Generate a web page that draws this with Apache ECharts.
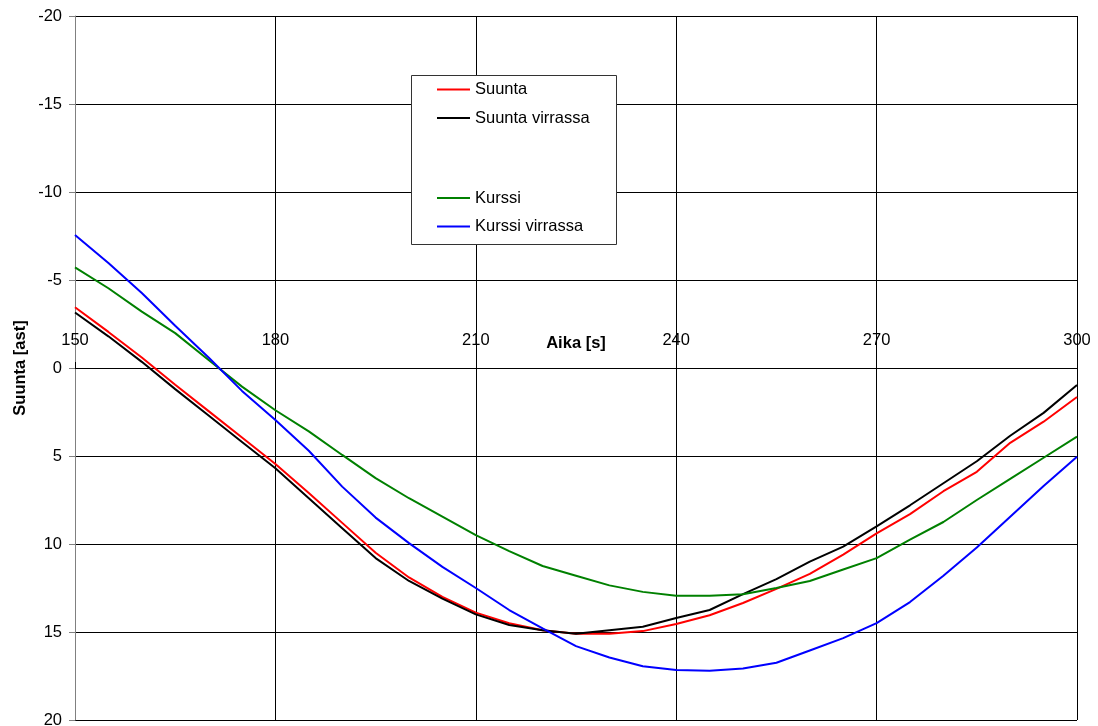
<!DOCTYPE html>
<html>
<head>
<meta charset="utf-8">
<script src="https://cdn.jsdelivr.net/npm/echarts@6/dist/echarts.min.js"></script>
<style>
  html, body { margin: 0; padding: 0; background: #fff; }
  #chart { width: 1098px; height: 726px; }
</style>
</head>
<body>
<div id="chart"></div>
<script>
// aika [s]
const aika = [150, 155, 160, 165, 170, 175, 180, 185, 190, 195, 200, 205, 210, 215, 220, 225,
  230, 235, 240, 245, 250, 255, 260, 265, 270, 275, 280, 285, 290, 295, 300]

const suunta = [-3.45, -2.05, -0.6, 0.95, 2.45, 3.95, 5.45, 7.1, 8.8, 10.5, 11.9, 13.0, 13.9, 14.5, 14.9, 15.1,
  15.1, 14.95, 14.55, 14.05, 13.35, 12.55, 11.7, 10.6, 9.4, 8.3, 7.0, 5.9, 4.25, 3.05, 1.65]

const suuntaVirrassa = [-3.15, -1.8, -0.35, 1.2, 2.7, 4.2, 5.7, 7.4, 9.1, 10.8, 12.1, 13.1, 14.0, 14.6, 14.9, 15.1,
  14.9, 14.7, 14.2, 13.75, 12.85, 12.0, 11.0, 10.15, 9.0, 7.8, 6.55, 5.3, 3.85, 2.55, 0.97]

const kurssi = [-5.72, -4.53, -3.2, -1.98, -0.45, 1.06, 2.4, 3.6, 4.94, 6.26, 7.4, 8.45, 9.5, 10.4, 11.25, 11.8,
  12.35, 12.72, 12.94, 12.94, 12.85, 12.5, 12.1, 11.45, 10.8, 9.75, 8.75, 7.5, 6.3, 5.1, 3.9]

const kurssiVirrassa = [-7.56, -5.96, -4.26, -2.4, -0.6, 1.3, 2.95, 4.7, 6.74, 8.5, 9.95, 11.3, 12.5, 13.75, 14.8, 15.8,
  16.45, 16.95, 17.16, 17.2, 17.08, 16.75, 16.05, 15.35, 14.5, 13.3, 11.8, 10.2, 8.45, 6.7, 5.04]

const names = ['Suunta', 'Suunta virrassa', 'Kurssi', 'Kurssi virrassa']
const colors = ['#ff0000', '#000000', '#008000', '#0000ff']
const values = [suunta, suuntaVirrassa, kurssi, kurssiVirrassa]

const font = 'Liberation Sans, Arial, sans-serif'

let series = values.map((list, i) => ({
  name: names[i],
  type: 'line',
  xAxisIndex: 0,
  yAxisIndex: 0,
  symbol: 'none',
  smooth: false,
  lineStyle: { color: colors[i], width: 2 },
  itemStyle: { color: colors[i] },
  data: list.map((v, k) => [aika[k], v])
}))

let legendBase = {
  orient: 'vertical',
  left: 437,
  icon: 'rect',
  itemWidth: 33,
  itemHeight: 2,
  itemGap: 11.5,
  padding: 0,
  textStyle: { color: '#000', fontSize: 16.5, fontFamily: font }
}

let option = {
  animation: false,
  backgroundColor: '#fff',
  grid: [
    { left: 75, right: 21, top: 16, bottom: 6, containLabel: false, outerBoundsMode: 'none' },
    // lower half, only to carry the time axis along y = 0
    { left: 75, right: 21, top: 368, bottom: 6, containLabel: false, outerBoundsMode: 'none' }
  ],
  graphic: [{
    type: 'rect',
    left: 411,
    top: 75,
    z: 3,
    shape: { width: 205, height: 169 },
    style: { fill: '#fff', stroke: '#333', lineWidth: 1 }
  }],
  legend: [
    Object.assign({}, legendBase, { top: 81, data: ['Suunta', 'Suunta virrassa'] }),
    Object.assign({}, legendBase, { top: 189.5, data: ['Kurssi', 'Kurssi virrassa'] })
  ],
  xAxis: [{
    gridIndex: 0,
    type: 'value',
    min: 150,
    max: 300,
    interval: 30,
    axisLine: { show: false },
    axisTick: { show: false },
    axisLabel: { show: false },
    splitLine: { show: true, lineStyle: { color: '#000', width: 1 } }
  }, {
    gridIndex: 1,
    type: 'value',
    min: 150,
    max: 300,
    interval: 30,
    position: 'top',
    name: 'Aika [s]',
    nameLocation: 'middle',
    nameGap: 16,
    nameMoveOverlap: false,
    nameTextStyle: { color: '#000', fontSize: 16.5, fontWeight: 'bold', fontFamily: font },
    axisLine: { show: true, onZero: false, lineStyle: { color: '#000', width: 1 } },
    axisTick: { show: true, length: 6, lineStyle: { color: '#000' } },
    axisLabel: { color: '#000', fontSize: 16.5, fontFamily: font, margin: 19 },
    splitLine: { show: false }
  }],
  yAxis: [{
    gridIndex: 0,
    type: 'value',
    min: -20,
    max: 20,
    interval: 5,
    inverse: true,
    name: 'Suunta [ast]',
    nameLocation: 'middle',
    nameGap: 46,
    nameMoveOverlap: false,
    nameTextStyle: { color: '#000', fontSize: 16.5, fontWeight: 'bold', fontFamily: font },
    axisLine: { show: true, onZero: false, lineStyle: { color: '#808080', width: 1 } },
    axisTick: { show: true, length: 6, lineStyle: { color: '#808080' } },
    axisLabel: { color: '#000', fontSize: 16.5, fontFamily: font, margin: 13 },
    splitLine: { show: true, lineStyle: { color: '#000', width: 1 } }
  }, {
    gridIndex: 1,
    type: 'value',
    min: 0,
    max: 1,
    show: false
  }],
  series: series
}

var myChart = echarts.init(document.getElementById('chart'))
myChart.setOption(option)
</script>
</body>
</html>
